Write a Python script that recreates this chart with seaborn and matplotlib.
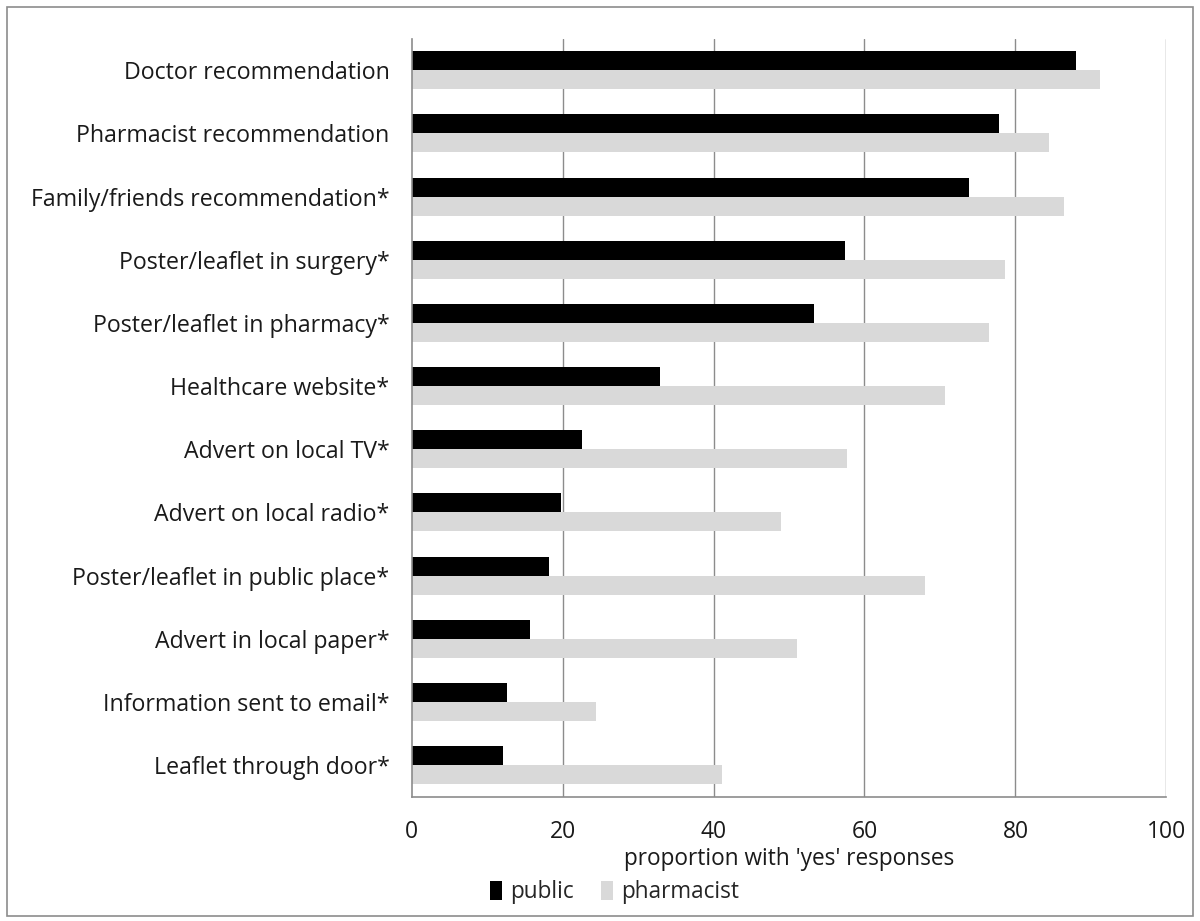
import numpy as np
import pandas as pd
import matplotlib
matplotlib.use("Agg")
import matplotlib.pyplot as plt
import seaborn as sns
from matplotlib.patches import Patch, Rectangle

# -----------------------------
# Data
# -----------------------------
categories = [
    "Doctor recommendation",
    "Pharmacist recommendation",
    "Family/friends recommendation*",
    "Poster/leaflet in surgery*",
    "Poster/leaflet in pharmacy*",
    "Healthcare website*",
    "Advert on local TV*",
    "Advert on local radio*",
    "Poster/leaflet in public place*",
    "Advert in local paper*",
    "Information sent to email*",
    "Leaflet through door*",
]
public = [88.0, 77.8, 73.8, 57.4, 53.3, 32.9, 22.6, 19.8, 18.2, 15.7, 12.7, 12.1]
pharmacist = [91.2, 84.4, 86.4, 78.6, 76.5, 70.7, 57.7, 49.0, 68.0, 51.0, 24.4, 41.1]
groups = ["public", "pharmacist"]
x_ticks = [0, 20, 40, 60, 80, 100]

df = pd.DataFrame({
    "source": categories * 2,
    "value": public + pharmacist,
    "group": ["public"] * len(categories) + ["pharmacist"] * len(categories),
})

colors = {"public": "#000000", "pharmacist": "#d9d9d9"}
grey = "#8c8c8c"
txt = "#1a1a1a"

sns.set_style("white")
plt.rcParams["font.family"] = ["Open Sans", "DejaVu Sans"]

fig = plt.figure(figsize=(12, 9.21), dpi=100)
ax = fig.add_axes([0.343, 0.135, 0.629, 0.823])

sns.barplot(data=df, y="source", x="value", hue="group", order=categories,
            hue_order=groups, palette=colors, width=0.6, orient="h",
            linewidth=0, saturation=1, ax=ax, legend=False)

ax.set_xlim(0, 100)
ax.set_ylim(len(categories) - 0.5, -0.5)
ax.set_xticks(x_ticks)
ax.set_xticklabels([str(t) for t in x_ticks], fontsize=16.5, color=txt)
ax.tick_params(axis="x", length=7, width=1, color=grey, pad=10, direction="out")
ax.tick_params(axis="y", which="major", length=0, pad=16, labelsize=16.7, labelcolor=txt)
ax.set_yticks(np.arange(-0.5, len(categories), 1.0), minor=True)
ax.tick_params(axis="y", which="minor", length=7, width=1, color=grey, direction="out")

for t in x_ticks[1:]:
    ax.axvline(t, color=grey, linewidth=1, zorder=0)

for side in ["top", "right"]:
    ax.spines[side].set_visible(False)
for side in ["left", "bottom"]:
    ax.spines[side].set_color(grey)
    ax.spines[side].set_linewidth(1.2)

ax.set_ylabel("")
ax.set_xlabel("proportion with 'yes' responses", fontsize=16.3, color=txt, labelpad=2)

handles = [Patch(facecolor=colors[g], edgecolor="none", label=g) for g in groups]
fig.legend(handles=handles, loc="center", bbox_to_anchor=(0.512, 0.031), ncol=2,
           frameon=False, fontsize=16.3, handlelength=0.55, handleheight=0.9,
           handletextpad=0.35, columnspacing=1.2, borderpad=0.2)

# outer chart frame
fig.patches.append(Rectangle((0.006, 0.005), 0.988, 0.987, transform=fig.transFigure,
                             fill=False, edgecolor=grey, linewidth=1.2))

fig.savefig("out.png", dpi=100)
